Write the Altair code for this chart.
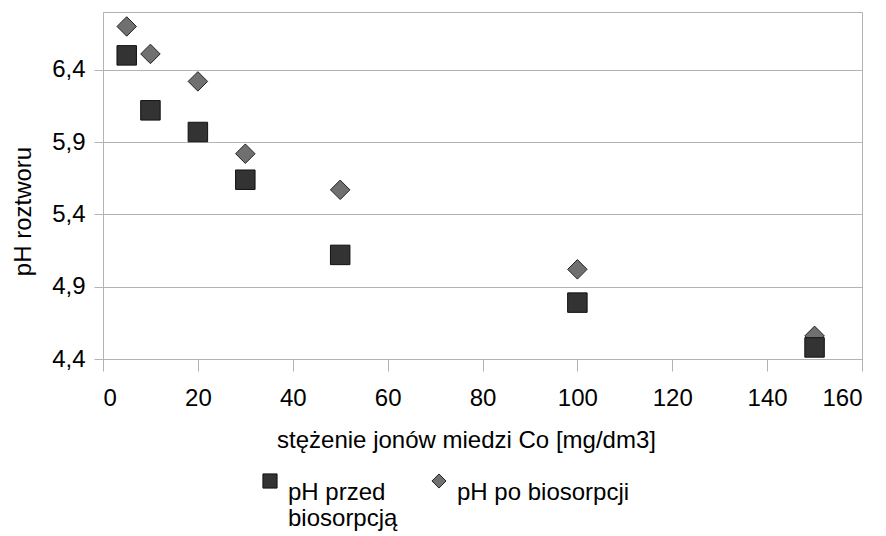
import altair as alt
import pandas as pd

stezenie = [5, 10, 20, 30, 50, 100, 150]
ph_przed = [6.50, 6.12, 5.97, 5.64, 5.12, 4.79, 4.48]
ph_po = [6.70, 6.51, 6.32, 5.82, 5.57, 5.02, 4.56]
serie = ["pH przed biosorpcją", "pH po biosorpcji"]
y_ticks = [4.4, 4.9, 5.4, 5.9, 6.4]
x_ticks = [0, 20, 40, 60, 80, 100, 120, 140, 160]

rows = []
for x, v in zip(stezenie, ph_po):
    rows.append({"x": x, "y": v, "seria": serie[1]})
for x, v in zip(stezenie, ph_przed):
    rows.append({"x": x, "y": v, "seria": serie[0]})
df = pd.DataFrame(rows)

FONT = "Liberation Sans"
FS = 24

legend = alt.Legend(
    title=None, orient="none", legendX=155, legendY=457, direction="horizontal",
    labelFont=FONT, labelFontSize=FS, labelColor="#000", symbolSize=200,
    columnPadding=29, labelOffset=6, padding=0, symbolStrokeWidth=1,
    labelExpr="datum.label == 'pH przed biosorpcją' ? ['pH przed', 'biosorpcją'] : [datum.label, ' ']",
    labelBaseline="top", labelLimit=0,
)

chart = alt.Chart(df).mark_point(filled=True, size=380, strokeWidth=1, opacity=1).encode(
    x=alt.X("x:Q",
            scale=alt.Scale(domain=[0, 160], nice=False, zero=False),
            axis=alt.Axis(values=x_ticks, grid=False, tickSize=12, tickColor="#b3b3b3",
                          domainColor="#b3b3b3", labelFontSize=FS, labelFont=FONT,
                          labelColor="#000", labelPadding=15,
                          title="stężenie jonów miedzi Co [mg/dm3]", titleFont=FONT,
                          titleFontSize=FS, titleFontWeight="normal", titleColor="#000",
                          titleX=363, titleY=88, titleAlign="center",
                          titleBaseline="alphabetic")),
    y=alt.Y("y:Q",
            scale=alt.Scale(domain=[4.4, 6.8], nice=False, zero=False),
            axis=alt.Axis(values=y_ticks, grid=True, gridColor="#b3b3b3", tickSize=9,
                          tickColor="#b3b3b3", domainColor="#b3b3b3",
                          labelExpr="replace(format(datum.value, '.1f'), '.', ',')",
                          labelFontSize=FS, labelFont=FONT, labelColor="#000", labelPadding=9,
                          title="pH roztworu", titleFont=FONT, titleFontSize=FS,
                          titleFontWeight="normal", titleColor="#000",
                          titleX=-92, titleY=199, titleAngle=270, titleAlign="center",
                          titleBaseline="top")),
    shape=alt.Shape("seria:N", scale=alt.Scale(domain=serie, range=["square", "diamond"]),
                    legend=legend),
    fill=alt.Fill("seria:N", scale=alt.Scale(domain=serie, range=["#333333", "#707070"]),
                  legend=legend),
    stroke=alt.Stroke("seria:N", scale=alt.Scale(domain=serie, range=["#111111", "#222222"]),
                      legend=legend),
).properties(width=759, height=347, padding={"left": 103, "top": 12, "right": 24, "bottom": 177},
             autosize=alt.AutoSizeParams(type="none"))

chart = chart.configure_view(stroke="#b3b3b3")

chart.save("out.html", embed_options={"renderer": "svg", "actions": False})
